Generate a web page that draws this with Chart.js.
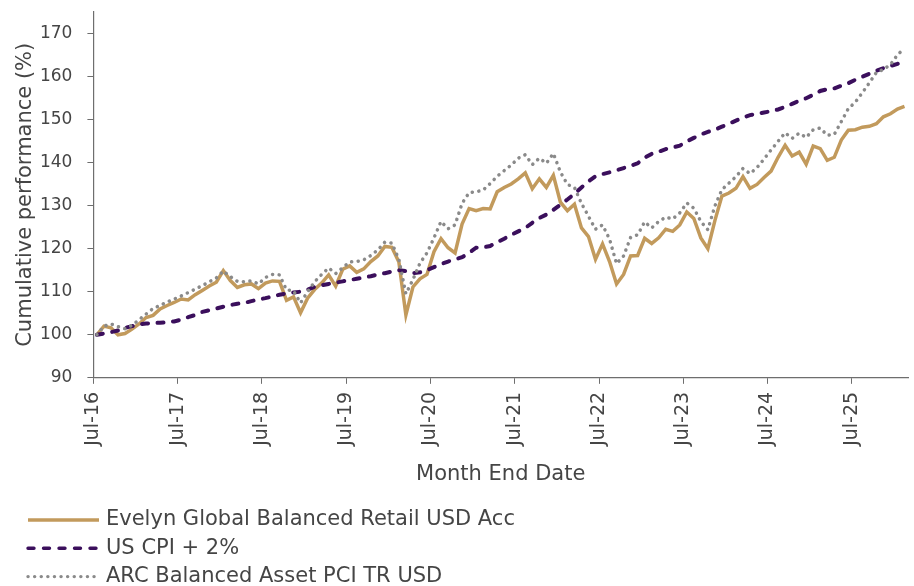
<!DOCTYPE html>
<html>
<head>
<meta charset="utf-8">
<script src="https://cdn.jsdelivr.net/npm/chart.js@4.4.1/dist/chart.umd.min.js"></script>
<style>
  html, body { margin: 0; padding: 0; background: #fff; }
  #wrap { width: 914px; height: 586px; }
</style>
</head>
<body>
<div id="wrap"><canvas id="perf-chart"></canvas></div>
<script>
// monthly, Jul-16 .. Feb-26
const months = [
  "Jul-16", "Aug-16", "Sep-16", "Oct-16", "Nov-16", "Dec-16",
  "Jan-17", "Feb-17", "Mar-17", "Apr-17", "May-17", "Jun-17", "Jul-17", "Aug-17", "Sep-17", "Oct-17", "Nov-17", "Dec-17",
  "Jan-18", "Feb-18", "Mar-18", "Apr-18", "May-18", "Jun-18", "Jul-18", "Aug-18", "Sep-18", "Oct-18", "Nov-18", "Dec-18",
  "Jan-19", "Feb-19", "Mar-19", "Apr-19", "May-19", "Jun-19", "Jul-19", "Aug-19", "Sep-19", "Oct-19", "Nov-19", "Dec-19",
  "Jan-20", "Feb-20", "Mar-20", "Apr-20", "May-20", "Jun-20", "Jul-20", "Aug-20", "Sep-20", "Oct-20", "Nov-20", "Dec-20",
  "Jan-21", "Feb-21", "Mar-21", "Apr-21", "May-21", "Jun-21", "Jul-21", "Aug-21", "Sep-21", "Oct-21", "Nov-21", "Dec-21",
  "Jan-22", "Feb-22", "Mar-22", "Apr-22", "May-22", "Jun-22", "Jul-22", "Aug-22", "Sep-22", "Oct-22", "Nov-22", "Dec-22",
  "Jan-23", "Feb-23", "Mar-23", "Apr-23", "May-23", "Jun-23", "Jul-23", "Aug-23", "Sep-23", "Oct-23", "Nov-23", "Dec-23",
  "Jan-24", "Feb-24", "Mar-24", "Apr-24", "May-24", "Jun-24", "Jul-24", "Aug-24", "Sep-24", "Oct-24", "Nov-24", "Dec-24",
  "Jan-25", "Feb-25", "Mar-25", "Apr-25", "May-25", "Jun-25", "Jul-25", "Aug-25", "Sep-25", "Oct-25", "Nov-25", "Dec-25",
  "Jan-26", "Feb-26"
];

const xTickLabels = ["Jul-16", "Jul-17", "Jul-18", "Jul-19", "Jul-20", "Jul-21", "Jul-22", "Jul-23", "Jul-24", "Jul-25"];
const yTicks = [90, 100, 110, 120, 130, 140, 150, 160, 170];

const evelyn = [
  100, 102, 101.6, 100, 100.3, 101.3, 102.5, 104, 104.5, 106,
  106.8, 107.5, 108.3, 108.1, 109.3, 110.3, 111.3, 112.2, 114.9, 112.6,
  111, 111.6, 111.8, 110.7, 112, 112.5, 112.4, 108, 108.8, 105.1,
  108.5, 110.5, 112, 113.9, 111.3, 115.2, 116, 114.5, 115.3, 117,
  118.3, 120.5, 120.3, 116.9, 104.6, 111.1, 113, 114, 119.3, 122.3,
  120.2, 119, 125.7, 129.3, 128.8, 129.3, 129.2, 133.2, 134.2, 135,
  136.2, 137.6, 133.9, 136.2, 134.2, 137, 130.8, 128.8, 130.3, 124.8,
  122.8, 117.5, 121.1, 117, 111.8, 114, 118.3, 118.4, 122.4, 121.2,
  122.5, 124.5, 124, 125.5, 128.5, 127, 122.5, 120, 126.5, 132.2,
  132.9, 134, 136.7, 134, 134.9, 136.5, 138, 141.2, 144, 141.5,
  142.4, 139.6, 143.8, 143.2, 140.5, 141.2, 145.2, 147.5, 147.6, 148.2,
  148.4, 149, 150.6, 151.3, 152.4, 153
];

const cpiPlus2 = [
  100, 100.3, 100.6, 101, 101.6, 102, 102.4, 102.6, 102.7, 102.8,
  102.9, 103.1, 103.5, 104.1, 104.6, 105.3, 105.7, 106.1, 106.5, 106.9,
  107.2, 107.4, 107.8, 108.2, 108.5, 108.9, 109.3, 109.6, 109.8, 110,
  110.5, 111.1, 111.5, 111.8, 112.1, 112.4, 112.7, 113, 113.3, 113.6,
  114, 114.3, 114.7, 115, 114.8, 114.3, 114.5, 115, 115.7, 116.4,
  117, 117.5, 118, 119, 120.2, 120.3, 120.6, 121.5, 122.3, 123.2,
  124, 124.8, 126, 127.1, 127.9, 129, 130.2, 131.4, 132.7, 134.2,
  135.6, 136.8, 137.3, 137.7, 138.2, 138.7, 139.2, 139.8, 141.1, 142,
  142.5, 143.1, 143.5, 143.9, 144.9, 145.7, 146.5, 147.1, 147.6, 148.3,
  149, 149.7, 150.4, 151, 151.3, 151.6, 151.9, 152.3, 152.9, 153.6,
  154.3, 154.9, 155.7, 156.6, 157, 157.2, 157.8, 158.4, 159.2, 159.9,
  160.6, 161.3, 161.9, 162.4, 162.9, 163.3
];

const arcBalanced = [
  100, 102, 102.5, 101.9, 101.4, 102.2, 103.5, 104.8, 106.1, 106.8,
  107.6, 108.3, 109, 109.8, 110.6, 111.4, 112.3, 113.2, 114.8, 113.5,
  112.4, 112.3, 112.5, 111.8, 113.3, 114, 113.9, 110.4, 110.2, 107.4,
  110, 112.3, 114, 115.5, 114.2, 115.6, 116.9, 117, 117.4, 118.4,
  119.7, 121.5, 121.3, 117.5, 109.5, 112.8, 116.6, 119, 122.5, 126.3,
  124.6, 125.5, 130.5, 133, 133.2, 133.6, 135.1, 136.8, 138.1, 139.4,
  141, 141.8, 139.5, 141, 139.8, 142.1, 137.8, 134.9, 134.2, 130.5,
  127.5, 124.5, 125.5, 122.2, 116.5, 118.3, 122.6, 123.2, 126.2, 124.8,
  126.3, 127.3, 126.9, 128.3, 130.6, 129.4, 126.3, 124.4, 129.9, 133.7,
  135.2, 136.7, 138.6, 137.4, 138.8, 140.8, 142.9, 144.9, 146.9, 145.6,
  146.8, 145.8, 147.6, 148, 146.3, 146.5, 149.5, 152.5, 154, 156.2,
  158.5, 160.9, 161.6, 162.7, 165, 166.5
];

const FONT = "'DejaVu Sans', sans-serif";
const TEXT = "#454545";
const AXIS = "#6e6e6e";

// put each series on the month index so the axis can carry yearly ticks
const toPoints = (arr) => arr.map((v, i) => ({ x: i, y: v }));

// legend stacked one per row, like the original
const stackedLegend = {
  id: "stackedLegend",
  afterDraw(chart) {
    const ctx = chart.ctx;
    const rows = [520, 548.3, 576.6];
    chart.data.datasets.forEach((ds, k) => {
      const y = rows[k];
      ctx.save();
      ctx.strokeStyle = ds.borderColor;
      ctx.lineWidth = Math.min(ds.borderWidth, 3.4);
      ctx.lineCap = ds.borderCapStyle || "butt";
      ctx.setLineDash(ds.borderDash || []);
      ctx.beginPath();
      ctx.moveTo(28, y);
      ctx.lineTo(99, y);
      ctx.stroke();
      ctx.setLineDash([]);
      ctx.fillStyle = TEXT;
      ctx.font = "21px " + FONT;
      ctx.textBaseline = "middle";
      ctx.textAlign = "left";
      ctx.fillText(ds.label, 106, y);
      ctx.restore();
    });
  }
};

const ctx = document.getElementById("perf-chart");
new Chart(ctx, {
  type: "line",
  data: {
    datasets: [
      {
        label: "Evelyn Global Balanced Retail USD Acc",
        data: toPoints(evelyn),
        borderColor: "#c29a5c",
        borderWidth: 3.5,
        order: 2,
      },
      {
        label: "US CPI + 2%",
        data: toPoints(cpiPlus2),
        borderColor: "#3b0f5c",
        borderWidth: 4,
        borderDash: [6, 9.5],
        borderCapStyle: "round",
        order: 1,
      },
      {
        label: "ARC Balanced Asset PCI TR USD",
        data: toPoints(arcBalanced),
        borderColor: "#8a8a8a",
        borderWidth: 3.5,
        borderDash: [0.1, 6.5],
        borderCapStyle: "round",
        order: 0,
      },
    ],
  },
  options: {
    responsive: true,
    maintainAspectRatio: false,
    animation: false,
    layout: { padding: { left: 13.4, top: 11.7, right: 6, bottom: 99 } },
    elements: { point: { radius: 0 }, line: { tension: 0 } },
    plugins: {
      legend: { display: false },
      tooltip: { enabled: false },
    },
    scales: {
      x: {
        type: "linear",
        min: -0.5,
        max: months.length - 0.5,
        afterBuildTicks: (axis) => {
          axis.ticks = xTickLabels.map((lbl) => ({ value: months.indexOf(lbl) - 0.5 }));
        },
        ticks: {
          autoSkip: false,
          minRotation: 90,
          maxRotation: 90,
          padding: 8,
          color: TEXT,
          font: { family: FONT, size: 19 },
          callback: (value, index) => xTickLabels[index],
        },
        grid: { drawOnChartArea: false, drawTicks: true, tickLength: 6, color: AXIS },
        border: { display: true, color: AXIS, width: 1.2 },
        title: {
          display: true,
          text: "Month End Date",
          color: TEXT,
          font: { family: FONT, size: 21 },
          padding: { top: 8, bottom: 0 },
        },
      },
      y: {
        min: 90,
        max: 175,
        afterBuildTicks: (axis) => {
          axis.ticks = yTicks.map((v) => ({ value: v }));
        },
        afterFit: (axis) => {
          axis.width = 80;
          axis.paddingTop = 0;
          axis.paddingBottom = 0;
        },
        ticks: {
          padding: 15,
          color: TEXT,
          font: { family: FONT, size: 17 },
        },
        grid: { drawOnChartArea: false, drawTicks: true, tickLength: 6, color: AXIS },
        border: { display: true, color: AXIS, width: 1.2 },
        title: {
          display: true,
          text: "Cumulative performance (%)",
          color: TEXT,
          font: { family: FONT, size: 21 },
          padding: { top: 0, bottom: 0 },
        },
      },
    },
  },
  plugins: [stackedLegend],
});
</script>
</body>
</html>
